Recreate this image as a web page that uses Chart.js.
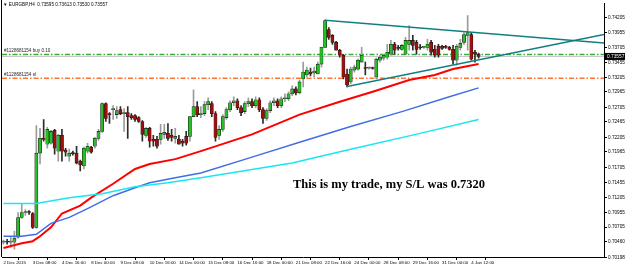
<!DOCTYPE html>
<html>
<head>
<meta charset="utf-8">
<script src="https://cdn.jsdelivr.net/npm/chart.js@4.4.0/dist/chart.umd.min.js"></script>
<style>
  html, body { margin: 0; padding: 0; background: #fff; }
  #wrap { width: 625px; height: 268px; }
</style>
</head>
<body>
<div id="wrap"><canvas id="myChart" width="625" height="268"></canvas></div>
<script>
// EURGBP H4 candles, 2 Dec 2015 .. 4 Jan 2016
const opens = [
  0.70455, 0.70471, 0.70455, 0.70455, 0.70537, 0.70867, 0.70950, 0.70966, 0.70934, 0.70702,
  0.71942, 0.72189, 0.72090, 0.72107, 0.72322, 0.71975, 0.72239, 0.71991, 0.71892, 0.71942,
  0.71942, 0.71809, 0.71727, 0.71975, 0.72041, 0.72057, 0.72189, 0.72305, 0.72768, 0.72602,
  0.72668, 0.72586, 0.72668, 0.72602, 0.72619, 0.72569, 0.72569, 0.72536, 0.72470, 0.72239,
  0.72355, 0.72173, 0.72173, 0.72173, 0.72256, 0.72272, 0.72239, 0.72189, 0.72173, 0.72140,
  0.72222, 0.72222, 0.72553, 0.72718, 0.72586, 0.72602, 0.72751, 0.72768, 0.72602, 0.72239,
  0.72338, 0.72536, 0.72668, 0.72784, 0.72817, 0.72702, 0.72635, 0.72768, 0.72801, 0.72735,
  0.72834, 0.72668, 0.72520, 0.72652, 0.72784, 0.72817, 0.72735, 0.72850, 0.72850, 0.72933,
  0.73015, 0.72949, 0.73181, 0.73247, 0.73296, 0.73280, 0.73263, 0.73429, 0.73709, 0.74007,
  0.73908, 0.73792, 0.73660, 0.73577, 0.73263, 0.73131, 0.73329, 0.73346, 0.73462, 0.73363,
  0.73363, 0.73363, 0.73214, 0.73495, 0.73528, 0.73544, 0.73594, 0.73759, 0.73709, 0.73676,
  0.73594, 0.73759, 0.73825, 0.73792, 0.73709, 0.73709, 0.73709, 0.73792, 0.73676, 0.73726,
  0.73726, 0.73726, 0.73709, 0.73676, 0.73495, 0.73709, 0.73792, 0.73908, 0.73924, 0.73627,
  0.73595
];
const highs = [
  0.70488, 0.70504, 0.70537, 0.70636, 0.70950, 0.71099, 0.71000, 0.70983, 0.70950, 0.72404,
  0.72355, 0.72503, 0.72371, 0.72322, 0.72338, 0.72256, 0.72338, 0.72024, 0.72008, 0.71975,
  0.72057, 0.71825, 0.72041, 0.72107, 0.72057, 0.72206, 0.72338, 0.72784, 0.72784, 0.72619,
  0.72735, 0.72718, 0.72718, 0.72685, 0.72718, 0.72602, 0.72586, 0.72553, 0.72487, 0.72371,
  0.72371, 0.72239, 0.72222, 0.72421, 0.72421, 0.72437, 0.72338, 0.72355, 0.72239, 0.72173,
  0.72305, 0.72553, 0.72999, 0.72801, 0.72718, 0.72801, 0.72867, 0.72801, 0.72635, 0.72404,
  0.72586, 0.72702, 0.72817, 0.72883, 0.72850, 0.72735, 0.72801, 0.72867, 0.72850, 0.72883,
  0.72867, 0.72702, 0.72685, 0.72817, 0.72867, 0.72850, 0.72883, 0.72933, 0.72966, 0.73065,
  0.73048, 0.73164, 0.73462, 0.73379, 0.73363, 0.73379, 0.73462, 0.73709, 0.74172, 0.74040,
  0.73924, 0.73809, 0.73676, 0.73594, 0.73346, 0.73379, 0.73412, 0.73511, 0.73709, 0.73462,
  0.73379, 0.73379, 0.73528, 0.73577, 0.73594, 0.73759, 0.73825, 0.73792, 0.73742, 0.73759,
  0.73875, 0.74073, 0.73908, 0.73825, 0.73759, 0.73726, 0.73842, 0.73825, 0.73742, 0.73759,
  0.73742, 0.73742, 0.73726, 0.73742, 0.73759, 0.73842, 0.73957, 0.74238, 0.73957, 0.73660,
  0.73613
];
const lows = [
  0.70422, 0.70422, 0.70372, 0.70339, 0.70521, 0.70851, 0.70900, 0.70917, 0.70686, 0.70686,
  0.71760, 0.72140, 0.72024, 0.72090, 0.71925, 0.71809, 0.71809, 0.71892, 0.71809, 0.71908,
  0.71760, 0.71644, 0.71677, 0.71942, 0.71942, 0.72024, 0.72156, 0.72289, 0.72470, 0.72437,
  0.72503, 0.72520, 0.72586, 0.72305, 0.72189, 0.72503, 0.72470, 0.72454, 0.72140, 0.72206,
  0.72041, 0.72057, 0.72024, 0.72090, 0.72189, 0.72156, 0.72140, 0.72107, 0.72090, 0.72057,
  0.72074, 0.72140, 0.72553, 0.72553, 0.72536, 0.72569, 0.72668, 0.72553, 0.72140, 0.72173,
  0.72305, 0.72503, 0.72635, 0.72735, 0.72668, 0.72569, 0.72602, 0.72718, 0.72702, 0.72702,
  0.72635, 0.72437, 0.72487, 0.72619, 0.72735, 0.72702, 0.72702, 0.72801, 0.72817, 0.72900,
  0.72916, 0.72933, 0.73048, 0.73214, 0.73230, 0.73214, 0.73263, 0.73379, 0.73709, 0.73842,
  0.73759, 0.73660, 0.73544, 0.73181, 0.73048, 0.73098, 0.73296, 0.73329, 0.73462, 0.73247,
  0.73346, 0.73346, 0.73181, 0.73462, 0.73495, 0.73511, 0.73577, 0.73594, 0.73660, 0.73660,
  0.73594, 0.73660, 0.73660, 0.73594, 0.73676, 0.73693, 0.73660, 0.73577, 0.73544, 0.73544,
  0.73676, 0.73693, 0.73660, 0.73429, 0.73412, 0.73660, 0.73759, 0.73660, 0.73495, 0.73462,
  0.73530
];
const closes = [
  0.70471, 0.70455, 0.70471, 0.70521, 0.70867, 0.70950, 0.70966, 0.70950, 0.70702, 0.71942,
  0.72189, 0.72173, 0.72338, 0.72305, 0.72024, 0.72239, 0.71975, 0.71958, 0.71942, 0.71933,
  0.71776, 0.71743, 0.72024, 0.72057, 0.71958, 0.72189, 0.72305, 0.72768, 0.72520, 0.72586,
  0.72685, 0.72652, 0.72602, 0.72619, 0.72553, 0.72536, 0.72503, 0.72470, 0.72256, 0.72355,
  0.72140, 0.72140, 0.72057, 0.72272, 0.72289, 0.72189, 0.72206, 0.72222, 0.72090, 0.72107,
  0.72107, 0.72553, 0.72718, 0.72586, 0.72602, 0.72751, 0.72801, 0.72602, 0.72206, 0.72338,
  0.72553, 0.72668, 0.72784, 0.72817, 0.72702, 0.72619, 0.72768, 0.72801, 0.72735, 0.72834,
  0.72668, 0.72520, 0.72652, 0.72784, 0.72817, 0.72735, 0.72850, 0.72867, 0.72933, 0.73015,
  0.72949, 0.73131, 0.73296, 0.73329, 0.73263, 0.73313, 0.73429, 0.73709, 0.74155, 0.73875,
  0.73792, 0.73660, 0.73577, 0.73214, 0.73081, 0.73346, 0.73379, 0.73495, 0.73577, 0.73355,
  0.73363, 0.73355, 0.73511, 0.73544, 0.73577, 0.73627, 0.73759, 0.73660, 0.73693, 0.73742,
  0.73825, 0.73825, 0.73742, 0.73676, 0.73701, 0.73709, 0.73759, 0.73627, 0.73577, 0.73577,
  0.73693, 0.73709, 0.73676, 0.73495, 0.73726, 0.73775, 0.73924, 0.73957, 0.73511, 0.73594,
  0.73557
];

// moving averages, read at some bars
const redIdx = [0, 5, 8, 10, 13, 16, 21, 24, 30, 36, 40, 47, 54, 68, 81, 92, 101, 111, 118, 123, 130];
const redVals = [0.70356, 0.70438, 0.70471, 0.70554, 0.70702, 0.70934, 0.71066, 0.71198, 0.71430, 0.71677,
  0.71760, 0.71842, 0.71975, 0.72256, 0.72586, 0.72801, 0.72966, 0.73164, 0.73247, 0.73346, 0.73429];
const blueIdx = [0, 5, 9, 13, 18, 23, 30, 36, 40, 47, 54, 68, 81, 95, 109, 122, 130];
const blueVals = [0.70554, 0.70554, 0.70587, 0.70769, 0.70868, 0.71016, 0.71231, 0.71363, 0.71446, 0.71529,
  0.71611, 0.71875, 0.72123, 0.72388, 0.72635, 0.72883, 0.73032];
const cyanIdx = [0, 9, 18, 27, 36, 45, 54, 79, 95, 114, 130];
const cyanVals = [0.71099, 0.71099, 0.71198, 0.71264, 0.71380, 0.71446, 0.71529, 0.71776, 0.72008, 0.72272, 0.72503];

// trend lines [bar, price]
const trendUpper = [[88, 0.74160], [164.3, 0.73782]];
const trendLower = [[94, 0.73055], [164.3, 0.73924]];

const buyLevel = 0.73590;
const slLevel = 0.73192;
const bidPrice = 0.73557;

const xTickIdx = [0, 8, 16, 24, 32, 40, 48, 56, 64, 72, 80, 88, 96, 104, 112, 120, 128];
const xTickLabels = ['2 Dec 2015', '3 Dec 08:00', '4 Dec 16:00', '8 Dec 00:00', '9 Dec 08:00', '10 Dec 16:00',
  '14 Dec 00:00', '15 Dec 08:00', '16 Dec 16:00', '18 Dec 00:00', '21 Dec 08:00', '22 Dec 16:00',
  '24 Dec 00:00', '28 Dec 08:00', '29 Dec 16:00', '31 Dec 00:00', '4 Jan 12:00'];
const yTickLabels = ['0.74205', '0.73955', '0.73705', '0.73455', '0.73205', '0.72965', '0.72705', '0.72465',
  '0.72205', '0.71965', '0.71705', '0.71455', '0.71205', '0.70955', '0.70705', '0.70460', '0.70198'];

const headerText = '\u25BC EURGBP,H4  0.73595 0.73613 0.73530 0.73557';
const buyText = '#1128681154 buy 0.10';
const slText = '#1128681154 sl';
const noteText = 'This is my trade, my S/L was 0.7320';

const up = (i) => closes[i] >= opens[i];
const bars = opens.map((_, i) => i);

const overlay = {
    id: 'overlay',
    beforeDatasetsDraw(chart) {
        const { ctx, chartArea: a, scales: { y } } = chart;
        ctx.save();
        // bid line
        let py = Math.round(y.getPixelForValue(bidPrice)) + 0.5;
        ctx.strokeStyle = '#c8c8c8';
        ctx.lineWidth = 1;
        ctx.beginPath(); ctx.moveTo(a.left, py); ctx.lineTo(a.right, py); ctx.stroke();
        // order lines
        ctx.lineWidth = 1.5;
        ctx.setLineDash([5, 2, 1.5, 2]);
        py = y.getPixelForValue(buyLevel);
        ctx.strokeStyle = '#3aac3a';
        ctx.beginPath(); ctx.moveTo(a.left, py); ctx.lineTo(a.right, py); ctx.stroke();
        py = y.getPixelForValue(slLevel);
        ctx.strokeStyle = '#ff7433';
        ctx.beginPath(); ctx.moveTo(a.left, py); ctx.lineTo(a.right, py); ctx.stroke();
        ctx.restore();
    },
    afterDraw(chart) {
        const { ctx, chartArea: a, scales: { y } } = chart;
        ctx.save();
        // left frame
        ctx.strokeStyle = '#000';
        ctx.lineWidth = 1;
        ctx.beginPath(); ctx.moveTo(a.left - 0.5, 0); ctx.lineTo(a.left - 0.5, a.bottom); ctx.stroke();

        ctx.fillStyle = '#000';
        ctx.textBaseline = 'middle';
        ctx.font = '4.6px "Liberation Sans"';
        ctx.fillText(headerText, 3, 5);
        ctx.fillStyle = '#222';
        ctx.fillText(buyText, 4, y.getPixelForValue(buyLevel) - 3.5);
        ctx.fillText(slText, 4, y.getPixelForValue(slLevel) - 3.5);

        // bid box on price axis
        const py = y.getPixelForValue(bidPrice);
        ctx.fillStyle = '#000';
        ctx.fillRect(a.right + 1, py - 3.5, 20, 7);
        ctx.fillStyle = '#fff';
        ctx.font = '4.8px "Liberation Sans"';
        ctx.fillText(bidPrice.toFixed(5), a.right + 3, py + 0.3);

        // note
        ctx.fillStyle = '#000';
        ctx.textBaseline = 'alphabetic';
        ctx.font = 'bold 12.5px "Liberation Serif"';
        ctx.fillText(noteText, 293, 188);
        ctx.restore();
    }
};

const lineSet = (idx, vals, color, width) => ({
    type: 'line',
    data: idx.map((x, k) => ({ x: x, y: vals[k] })),
    borderColor: color,
    borderWidth: width,
    pointRadius: 0,
    tension: 0,
    order: 0
});

new Chart(document.getElementById('myChart'), {
    type: 'bar',
    data: {
        datasets: [
            lineSet(cyanIdx, cyanVals, '#19e6f0', 1.5),
            lineSet(blueIdx, blueVals, '#3f6ee6', 1.5),
            lineSet(redIdx, redVals, '#ff0000', 2),
            lineSet(trendUpper.map(p => p[0]), trendUpper.map(p => p[1]), '#117f80', 1.5),
            lineSet(trendLower.map(p => p[0]), trendLower.map(p => p[1]), '#117f80', 1.5),
            {
                data: bars.map(i => ({ x: i, y: [opens[i], closes[i]] })),
                backgroundColor: bars.map(i => up(i) ? '#26c026' : '#a00e0e'),
                borderColor: '#1a1a1a',
                borderWidth: 0.6,
                borderSkipped: false,
                barThickness: 3.2,
                minBarLength: 1,
                grouped: false,
                order: 1
            },
            {
                data: bars.map(i => ({ x: i, y: [lows[i], highs[i]] })),
                backgroundColor: bars.map(i => up(i) ? '#9c9c9c' : '#2c2c2c'),
                barThickness: 1,
                grouped: false,
                order: 2
            }
        ]
    },
    options: {
        responsive: false,
        animation: false,
        devicePixelRatio: 1,
        layout: { padding: { left: 2, top: 1, right: 0, bottom: 0 } },
        plugins: { legend: { display: false }, tooltip: { enabled: false } },
        scales: {
            x: {
                type: 'linear',
                offset: false,
                min: -0.4,
                max: 164.3,
                afterFit: (s) => { s.height = 11; },
                afterBuildTicks: (s) => { s.ticks = xTickIdx.map(v => ({ value: v })); },
                grid: { drawOnChartArea: false, drawTicks: true, tickLength: 3, color: '#000' },
                border: { display: true, color: '#000', width: 1 },
                ticks: {
                    autoSkip: false,
                    maxRotation: 0,
                    align: 'start',
                    padding: 0,
                    color: '#000',
                    font: { family: 'Liberation Sans', size: 4.4 },
                    callback: (v) => xTickLabels[xTickIdx.indexOf(v)]
                }
            },
            y: {
                position: 'right',
                min: 0.70207,
                max: 0.74436,
                afterFit: (s) => { s.width = 21; },
                afterBuildTicks: (s) => { s.ticks = yTickLabels.map(t => ({ value: parseFloat(t) })); },
                grid: { drawOnChartArea: false, drawTicks: true, tickLength: 3, color: '#000' },
                border: { display: true, color: '#000', width: 1 },
                ticks: {
                    autoSkip: false,
                    padding: 1,
                    color: '#000',
                    font: { family: 'Liberation Sans', size: 4.7 },
                    callback: (v) => v.toFixed(5)
                }
            }
        }
    },
    plugins: [overlay]
});
</script>
</body>
</html>
